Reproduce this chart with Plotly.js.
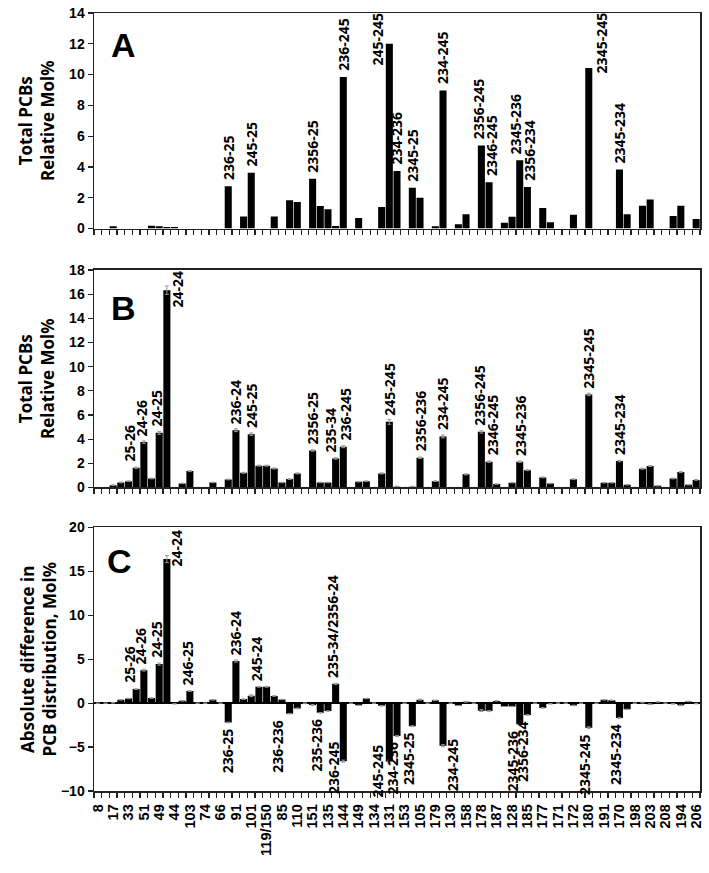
<!DOCTYPE html>
<html>
<head>
<meta charset="utf-8">
<script src="https://cdn.plot.ly/plotly-3.0.1.min.js"></script>
<style>html,body{margin:0;padding:0;background:#fff;}#chart{width:709px;height:873px;}</style>
</head>
<body>
<div id="chart"></div>
<script>
// Every other congener is labelled on the category axis (79 categories in total)
const congenerLabels = ['8','17','33','51','49','44','103','74','66','91','101','119/150','85','110','151','135','144','149','134','131','153','105','179','130','158','178','187','128','185','177','171','172','180','191','170','198','203','208','194','206'];
const categoryCount = 79;

// Panel A: Total PCBs relative Mol%
const valuesA = [0,0,0.15,0,0,0,0,0.18,0.15,0.1, 0.1,0,0,0,0,0,0,2.75,0,0.78, 3.62,0,0,0.78,0,1.84,1.72,0,3.24,1.46, 1.25,0.17,9.84,0,0.69,0,0,1.4,12.0,3.73, 0,2.64,2.0,0,0.15,8.97,0,0.27,0.92,0, 5.4,3.0,0,0.37,0.76,4.43,2.7,0,1.34,0.4, 0,0,0.89,0,10.42,0,0,0,3.83,0.92, 0,1.48,1.88,0,0,0.81,1.48,0,0.61];
// Panel B: Total PCBs relative Mol%
const valuesB = [0,0,0.19,0.41,0.52,1.63,3.75,0.74,4.52,16.33, 0,0.33,1.35,0,0,0.41,0,0.66,4.74,1.21, 4.41,1.8,1.8,1.57,0.41,0.69,1.16,0,3.06,0.41, 0.41,2.4,3.37,0,0.47,0.52,0,1.16,5.43,0.05, 0,0.05,2.45,0,0.52,4.22,0,0,1.08,0, 4.6,2.13,0.28,0,0.39,2.13,1.43,0,0.83,0.33, 0,0,0.68,0,7.7,0,0.39,0.39,2.18,0.22, 0,1.55,1.77,0.14,0,0.74,1.27,0.22,0.62];
const errorsB = [0,0,0.02,0.03,0.03,0.05,0.1,0.03,0.12,0.35, 0,0.02,0.04,0,0,0.02,0,0.03,0.12,0.04, 0.1,0.04,0.04,0.04,0.02,0.03,0.04,0,0.06,0.02, 0.02,0.06,0.08,0,0.02,0.02,0,0.04,0.2,0.05, 0,0.05,0.06,0,0.03,0.12,0,0,0.04,0, 0.1,0.06,0.02,0,0.02,0.06,0.04,0,0.03,0.02, 0,0,0.03,0,0.1,0,0.02,0.02,0.06,0.02, 0,0.04,0.04,0.02,0,0.03,0.04,0.02,0.03];
// Panel C: absolute difference in PCB distribution, Mol%
const valuesC = [0,0,0.04,0.38,0.53,1.6,3.76,0.58,4.45,16.4, -0.08,0.27,1.38,0,0,0.38,0,-2.2,4.8,0.46, 0.85,1.86,1.86,0.82,0.42,-1.2,-0.6,0,-0.22,-1.1, -0.9,2.2,-6.6,0,-0.25,0.53,0,-0.3,-6.65,-3.75, 0,-2.62,0.4,0,0.33,-4.85,0,-0.28,0.16,0, -0.85,-0.9,0.26,-0.38,-0.38,-2.4,-1.35,0,-0.54,-0.08, 0,0,-0.26,0,-2.8,0,0.38,0.33,-1.68,-0.7, 0,0.07,-0.12,0.14,0,-0.08,-0.25,0.2,-0.05];
const errorsC = [0,0,0.02,0.03,0.03,0.05,0.1,0.03,0.12,0.4, 0,0.02,0.04,0,0,0.02,0,0.04,0.12,0.04, 0.1,0.04,0.04,0.04,0.02,0.03,0.04,0,0.06,0.03, 0.03,0.06,0.12,0,0.02,0.02,0,0.04,0.15,0.05, 0,0.05,0.06,0,0.03,0.12,0,0,0.04,0, 0.1,0.06,0.02,0,0.02,0.06,0.04,0,0.03,0.02, 0,0,0.03,0,0.1,0,0.02,0.02,0.06,0.02, 0,0.04,0.04,0.02,0,0.03,0.04,0.02,0.03];

// Bar labels [category index, text]
const labelsA = [[17,'236-25'],[20,'245-25'],[28,'2356-25'],[32,'236-245'],[38,'245-245'],[39,'234-236'],[41,'2345-25'],[45,'234-245'],[50,'2356-245'],[51,'2346-245'],[55,'2345-236'],[56,'2356-234'],[64,'2345-245'],[68,'2345-234']];
const labelsB = [[5,'25-26'],[6,'24-26'],[8,'24-25'],[9,'24-24'],[18,'236-24'],[20,'245-25'],[28,'2356-25'],[31,'235-34'],[32,'236-245'],[38,'245-245'],[42,'2356-236'],[45,'234-245'],[50,'2356-245'],[51,'2346-245'],[55,'2345-236'],[64,'2345-245'],[68,'2345-234']];
const labelsC = [[5,'25-26'],[6,'24-26'],[8,'24-25'],[9,'24-24'],[12,'246-25'],[18,'236-24'],[21,'245-24'],[31,'235-34/2356-24'],[17,'236-25'],[25,'236-236'],[29,'235-236'],[32,'236-245'],[38,'245-245'],[39,'234-236'],[41,'2345-25'],[45,'234-245'],[55,'2345-236'],[56,'2356-234'],[64,'2345-245'],[68,'2345-234']];

// label placement tweaks (pixels)
const tweaksA = {38:{dx:-12,dy:-28},64:{dx:13,dy:-11},50:{dx:-3},51:{dx:3},55:{dx:-4},56:{dx:2}};
const tweaksB = {5:{dx:-7},6:{dx:-2},8:{dx:-3},9:{dx:11,dy:-23},31:{dx:-5},32:{dx:2},50:{dx:-2},51:{dx:3}};
const tweaksC = {5:{dx:-7},6:{dx:-3},8:{dx:-3},9:{dx:10,dy:-13},12:{dx:-2},21:{dx:-3},31:{dx:-3},
  25:{dx:-12},29:{dx:-4},32:{dx:-10,dy:26},38:{dx:-12,dy:23},39:{dx:-4},41:{dx:-4},45:{dx:9,dy:13},55:{dx:-7},56:{dx:-5},64:{dx:-5},68:{dx:-4}};

const xIdx = Array.from({length: categoryCount}, (_, i) => i);
const labelTicks = congenerLabels.map((_, k) => 2 * k);
const boundaryTicks = Array.from({length: categoryCount + 1}, (_, i) => i - 0.5);

const tickFont = {family: 'Liberation Sans, Arial, sans-serif', size: 14, color: '#000', weight: 'bold'};
const labelFont = {family: 'Open Sans, sans-serif', size: 14, color: '#000', weight: 'bold'};
const titleFont = {family: 'Open Sans, sans-serif', size: 17, color: '#000', weight: 'bold'};

function barTrace(vals, errs, xa, ya) {
  const t = {type: 'bar', x: xIdx, y: vals, xaxis: xa, yaxis: ya,
    marker: {color: '#000', line: {width: 0}}, hoverinfo: 'x+y'};
  if (errs) t.error_y = {type: 'data', array: errs, visible: true, color: '#999', thickness: 1, width: 2};
  return t;
}

function makeLabels(list, vals, tweaks, xa, ya) {
  return list.map(([i, txt]) => {
    const tw = tweaks[i] || {};
    const neg = vals[i] < 0;
    return {x: i, y: vals[i], xref: xa, yref: ya, text: txt, showarrow: false,
      textangle: -90, font: labelFont, xanchor: 'center', yanchor: neg ? 'top' : 'bottom',
      xshift: tw.dx || 0, yshift: (neg ? -4 : 4) + (tw.dy || 0)};
  });
}

const frame = {showline: true, mirror: true, linecolor: '#222', linewidth: 1.5, showgrid: false, zeroline: false, fixedrange: true};

const xBase = Object.assign({}, frame, {range: [-0.5, categoryCount - 0.5], tickmode: 'array', tickvals: boundaryTicks,
  ticks: 'outside', ticklen: 5, tickwidth: 1.2, tickcolor: '#222', showticklabels: false, domain: [0, 1]});

const yBase = Object.assign({}, frame, {ticks: 'outside', ticklen: 5, tickwidth: 1.2, tickcolor: '#222', tickfont: tickFont, automargin: false});

const layout = {
  width: 709, height: 873,
  margin: {l: 94, r: 9, t: 13, b: 82},
  paper_bgcolor: '#fff', plot_bgcolor: '#fff',
  showlegend: false, bargap: 0.08,
  xaxis: Object.assign({}, xBase, {anchor: 'y'}),
  xaxis2: Object.assign({}, xBase, {anchor: 'y2'}),
  xaxis3: Object.assign({}, frame, {anchor: 'y3', domain: [0, 1], range: [-0.5, categoryCount - 0.5],
    tickmode: 'array', tickvals: labelTicks, ticktext: congenerLabels, ticks: '', tickangle: -90,
    tickfont: Object.assign({}, tickFont, {size: 14.5}), ticklabelstandoff: 6, automargin: false,
    minor: {tickmode: 'linear', tick0: -0.5, dtick: 1, ticks: 'outside', ticklen: 5, tickwidth: 1.2, tickcolor: '#222'}}),
  yaxis: Object.assign({}, yBase, {domain: [0.723, 1], range: [0, 14], dtick: 2,
    title: {text: 'Total PCBs<br>Relative Mol%', font: titleFont, standoff: 10}}),
  yaxis2: Object.assign({}, yBase, {domain: [0.3902, 0.6697], range: [0, 18], dtick: 2,
    title: {text: 'Total PCBs<br>Relative Mol%', font: titleFont, standoff: 10}}),
  yaxis3: Object.assign({}, yBase, {domain: [0, 0.3387], range: [-10, 20], dtick: 5,
    zeroline: true, zerolinecolor: '#000', zerolinewidth: 1.5,
    title: {text: 'Absolute difference in<br>PCB distribution, Mol%', font: titleFont, standoff: 0}}),
  annotations: [].concat(
    makeLabels(labelsA, valuesA, tweaksA, 'x', 'y'),
    makeLabels(labelsB, valuesB, tweaksB, 'x2', 'y2'),
    makeLabels(labelsC, valuesC, tweaksC, 'x3', 'y3'),
    [
      {text: 'A', xref: 'x domain', yref: 'y domain', x: 0.025, y: 0.85, xanchor: 'left', yanchor: 'middle', showarrow: false,
        font: {family: 'Liberation Sans, Arial, sans-serif', size: 34, weight: 'bold', color: '#000'}},
      {text: 'B', xref: 'x2 domain', yref: 'y2 domain', x: 0.025, y: 0.825, xanchor: 'left', yanchor: 'middle', showarrow: false,
        font: {family: 'Liberation Sans, Arial, sans-serif', size: 34, weight: 'bold', color: '#000'}},
      {text: 'C', xref: 'x3 domain', yref: 'y3 domain', x: 0.018, y: 0.872, xanchor: 'left', yanchor: 'middle', showarrow: false,
        font: {family: 'Liberation Sans, Arial, sans-serif', size: 34, weight: 'bold', color: '#000'}}
    ]
  )
};

const data = [
  barTrace(valuesA, null, 'x', 'y'),
  barTrace(valuesB, errorsB, 'x2', 'y2'),
  barTrace(valuesC, errorsC, 'x3', 'y3')
];

Plotly.newPlot('chart', data, layout, {displayModeBar: false, staticPlot: true});
</script>
</body>
</html>
